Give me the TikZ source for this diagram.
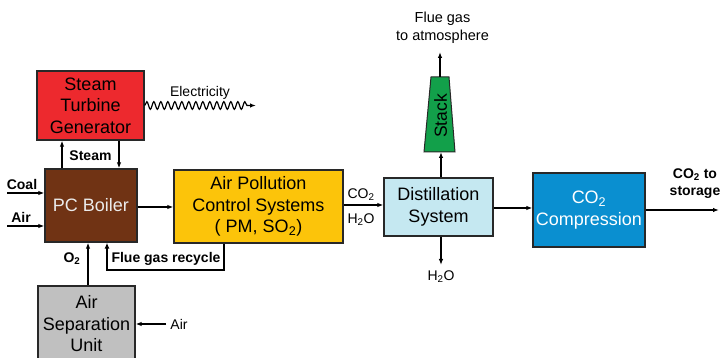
\documentclass[tikz,border=0pt]{standalone}
\usepackage{fontspec}
\setmainfont{Liberation Sans}
\usetikzlibrary{arrows.meta,decorations.pathmorphing,calc}
\definecolor{stgred}{RGB}{237,41,46}
\definecolor{boilbrown}{RGB}{112,51,20}
\definecolor{apcyellow}{RGB}{252,196,10}
\definecolor{distblue}{RGB}{197,232,241}
\definecolor{stackgreen}{RGB}{18,160,74}
\definecolor{compblue}{RGB}{10,143,208}
\definecolor{asugray}{RGB}{192,192,192}
\definecolor{edge}{RGB}{40,40,40}
\begin{document}
\begin{tikzpicture}[x=1pt,y=-1pt,
  box/.style={draw=edge,line width=1.3pt,inner sep=0pt,align=center,
    font=\fontsize{18}{21.5}\selectfont},
  lbl/.style={inner sep=0pt,align=center,font=\fontsize{14}{18}\selectfont},
  blbl/.style={inner sep=0pt,align=center,font=\fontsize{14}{17}\selectfont\bfseries},
  arr/.style={line width=1.2pt,-{Latex[length=6pt,width=4.5pt]}},
  recyc/.style={line width=2pt,-{Latex[length=6pt,width=5pt]}}]
\useasboundingbox (0,0) rectangle (721,358);
\fill[white] (0,0) rectangle (721,358);
% boxes
\node[box,fill=stgred,minimum width=107pt,minimum height=69pt] (stg) at (90.5,105.5) {Steam\\Turbine\\Generator};
\node[box,fill=boilbrown,text=white!92!black,minimum width=92pt,minimum height=73pt] (boiler) at (91,205.5) {PC Boiler};
\node[box,fill=asugray,minimum width=97pt,minimum height=76pt] (asu) at (86.5,324) {Air\\Separation\\Unit};
\node[box,fill=apcyellow,minimum width=169pt,minimum height=73pt] (apc) at (258.5,206.5) {Air Pollution\\Control Systems\\( PM, SO\textsubscript{2})};
\node[box,fill=distblue,minimum width=109pt,minimum height=58pt] (dist) at (438.5,207) {Distillation\\System};
\node[box,fill=compblue,text=white,minimum width=112pt,minimum height=74pt] (comp) at (589,210) {CO\textsubscript{2}\\Compression};
% stack
\filldraw[fill=stackgreen,draw=edge,line width=1pt] (431,77) -- (449,77) -- (455,152) -- (424,152) -- cycle;
\node[inner sep=0pt,rotate=90,font=\fontsize{17.5}{20}\selectfont] (stack) at (440.5,116) {Stack};
\coordinate (stackbot) at (441,152);
\coordinate (stacktop) at (440,77);
\coordinate (fluetip) at (440,52);
% labels
\node[blbl] (coal) at (22,184) {Coal};
\node[blbl] (airl) at (21,217) {Air};
\node[blbl] (steam) at (90.5,156) {Steam};
\node[blbl] (otwo) at (72,259) {O\textsubscript{2}};
\node[blbl] (fgr) at (166,259) {Flue gas recycle};
\node[lbl] (airr) at (179,324) {Air};
\node[lbl] (elec) at (200,93) {Electricity};
\node[lbl,font=\fontsize{14.5}{18}\selectfont] (flue) at (442.5,28) {Flue gas\\to atmosphere};
\node[lbl] (cotwo) at (361,195) {CO\textsubscript{2}};
\node[lbl] (htwo) at (361,220) {H\textsubscript{2}O};
\node[lbl] (hout) at (441,277) {H\textsubscript{2}O};
\node[blbl] (stor) at (695,183.5) {CO\textsubscript{2} to\\storage};
% coordinates for free ends
\coordinate (coalin) at (7,193);
\coordinate (airin) at (7,226);
\coordinate (airrin) at (166,324);
\coordinate (elecend) at (256,105.5);
\coordinate (houtend) at (441,265);
\coordinate (storend) at (719,210);
% connectors
\draw[arr] (coalin) -- (coalin -| boiler.west);
\draw[arr] (airin) -- (airin -| boiler.west);
\draw[arr] (boiler.north -| 62,0) -- (stg.south -| 62,0);
\draw[arr] (stg.south -| 119,0) -- (boiler.north -| 119,0);
\draw[line width=1.2pt,decorate,decoration={snake,amplitude=3.8pt,segment length=7pt,post length=8pt},-{Latex[length=6pt,width=4.5pt]}] (stg.east) -- (elecend);
\draw[arr] (boiler.east |- 0,207) -- (apc.west |- 0,207);
\draw[arr] (apc.east |- 0,205) -- (dist.west |- 0,205);
\draw[arr] (dist.east |- 0,208) -- (comp.west |- 0,208);
\draw[arr] (comp.east) -- (storend);
\draw[arr] (dist.north -| stackbot) -- (stackbot);
\draw[arr] (stacktop) -- (fluetip);
\draw[arr] (dist.south -| houtend) -- (houtend);
\draw[arr] (asu.north -| 88,0) -- (boiler.south -| 88,0);
\draw[arr] (airrin) -- (airrin -| asu.east);
\draw[recyc] (apc.south -| 224,0) -- (224,270) -- (107,270) -- (boiler.south -| 107,0);
\end{tikzpicture}
\end{document}
